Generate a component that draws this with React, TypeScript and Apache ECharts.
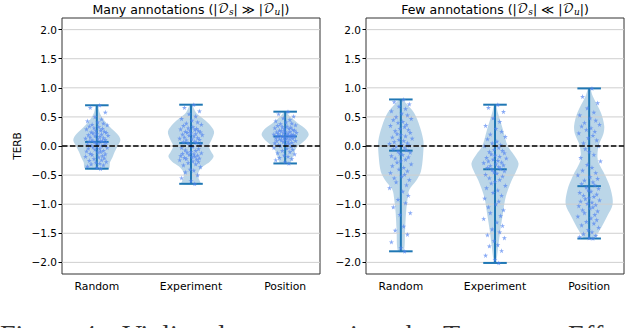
import React, { useEffect, useRef } from 'react';
import * as echarts from 'echarts';

const CATEGORIES = ['Random', 'Experiment', 'Position'];
const POSITIONS = [1, 2, 3];
const Y_TICKS = [-2, -1.5, -1, -0.5, 0, 0.5, 1, 1.5, 2];

// whisker stats per category
const MANY_MIN = [-0.39, -0.65, -0.30];
const MANY_MAX = [0.70, 0.71, 0.59];
const MANY_MEDIAN = [0.07, 0.05, 0.165];
const FEW_MIN = [-1.81, -2.01, -1.59];
const FEW_MAX = [0.80, 0.71, 0.99];
const FEW_MEDIAN = [-0.08, -0.40, -0.69];

// violin outlines: [value, half width]
const MANY_RANDOM_SHAPE = [[0.70, 0.01], [0.57, 0.03], [0.48, 0.06], [0.38, 0.11], [0.28, 0.17], [0.18, 0.23], [0.10, 0.25], [0.0, 0.22], [-0.1, 0.19], [-0.18, 0.17], [-0.28, 0.14], [-0.39, 0.125]];
const MANY_EXPERIMENT_SHAPE = [[0.71, 0.01], [0.57, 0.055], [0.48, 0.12], [0.39, 0.185], [0.25, 0.245], [0.11, 0.22], [0.0, 0.19], [-0.1, 0.215], [-0.18, 0.24], [-0.27, 0.2], [-0.35, 0.13], [-0.45, 0.08], [-0.55, 0.08], [-0.65, 0.1]];
const MANY_POSITION_SHAPE = [[0.59, 0.01], [0.51, 0.05], [0.39, 0.135], [0.28, 0.225], [0.19, 0.25], [0.08, 0.2], [-0.03, 0.12], [-0.15, 0.09], [-0.26, 0.065], [-0.30, 0.05]];
const FEW_RANDOM_SHAPE = [[0.80, 0.01], [0.74, 0.053], [0.57, 0.14], [0.34, 0.2], [0.08, 0.24], [-0.18, 0.235], [-0.44, 0.213], [-0.58, 0.17], [-0.75, 0.09], [-0.92, 0.07], [-1.15, 0.055], [-1.44, 0.045], [-1.81, 0.03]];
const FEW_EXPERIMENT_SHAPE = [[0.71, 0.01], [0.57, 0.03], [0.28, 0.085], [0.0, 0.135], [-0.15, 0.2], [-0.3, 0.25], [-0.45, 0.22], [-0.58, 0.18], [-0.87, 0.115], [-1.15, 0.085], [-1.44, 0.057], [-1.72, 0.035], [-2.01, 0.01]];
const FEW_POSITION_SHAPE = [[0.99, 0.01], [0.85, 0.04], [0.57, 0.125], [0.35, 0.16], [0.20, 0.15], [0.0, 0.1], [-0.24, 0.092], [-0.52, 0.175], [-0.75, 0.23], [-1.0, 0.25], [-1.21, 0.19], [-1.44, 0.115], [-1.55, 0.075], [-1.59, 0.045]];

// individual TERB values
const MANY_RANDOM = [0.70, 0.66, 0.58, 0.50, 0.46, 0.43, 0.41, 0.39, 0.37, 0.36, 0.34, 0.33, 0.31, 0.30, 0.29, 0.27, 0.26, 0.25, 0.24, 0.23, 0.22, 0.21, 0.20, 0.19, 0.18, 0.17, 0.16, 0.15, 0.14, 0.13, 0.12, 0.11, 0.10, 0.09, 0.08, 0.08,
  0.07, 0.06, 0.05, 0.04, 0.03, 0.02, 0.01, 0.00, -0.01, -0.02, -0.03, -0.04, -0.05, -0.06, -0.08, -0.09, -0.10, -0.11, -0.13, -0.14, -0.15, -0.17, -0.18, -0.19, -0.21, -0.22, -0.24, -0.25, -0.27, -0.28, -0.30, -0.31, -0.33, -0.35, -0.37, -0.39];
const MANY_EXPERIMENT = [0.71, 0.66, 0.60, 0.55, 0.51, 0.47, 0.44, 0.41, 0.39, 0.37, 0.35, 0.33, 0.31, 0.30, 0.29, 0.28, 0.27, 0.26, 0.25, 0.24, 0.23, 0.22, 0.21, 0.20, 0.19, 0.18, 0.17, 0.15, 0.14, 0.13, 0.12, 0.11, 0.10, 0.08, 0.07, 0.06,
  0.05, 0.03, 0.01, -0.01, -0.03, -0.05, -0.07, -0.08, -0.10, -0.11, -0.12, -0.13, -0.14, -0.15, -0.16, -0.17, -0.18, -0.19, -0.20, -0.21, -0.22, -0.23, -0.24, -0.26, -0.27, -0.29, -0.31, -0.33, -0.36, -0.40, -0.42, -0.45, -0.50, -0.55, -0.60, -0.65];
const MANY_POSITION = [0.59, 0.55, 0.51, 0.48, 0.45, 0.43, 0.41, 0.39, 0.38, 0.36, 0.35, 0.34, 0.33, 0.32, 0.31, 0.30, 0.29, 0.28, 0.27, 0.27, 0.26, 0.25, 0.25, 0.24, 0.23, 0.22, 0.22, 0.21, 0.20, 0.20, 0.19, 0.19, 0.18, 0.18, 0.17, 0.17,
  0.16, 0.16, 0.15, 0.14, 0.14, 0.13, 0.12, 0.12, 0.11, 0.10, 0.09, 0.09, 0.08, 0.07, 0.06, 0.05, 0.04, 0.03, 0.02, 0.01, 0.00, -0.01, -0.03, -0.04, -0.06, -0.08, -0.10, -0.12, -0.14, -0.16, -0.18, -0.20, -0.22, -0.24, -0.27, -0.30];
const FEW_RANDOM = [0.80, 0.76, 0.72, 0.68, 0.64, 0.60, 0.56, 0.53, 0.50, 0.47, 0.45, 0.42, 0.40, 0.37, 0.35, 0.33, 0.30, 0.28, 0.26, 0.23, 0.21, 0.19, 0.17, 0.15, 0.13, 0.11, 0.09, 0.07, 0.05, 0.04, 0.02, 0.01, -0.01, -0.03, -0.05, -0.07,
  -0.09, -0.11, -0.13, -0.15, -0.17, -0.19, -0.21, -0.23, -0.26, -0.28, -0.31, -0.34, -0.37, -0.40, -0.43, -0.46, -0.49, -0.52, -0.55, -0.58, -0.62, -0.67, -0.72, -0.78, -0.85, -0.92, -0.98, -1.05, -1.15, -1.18, -1.38, -1.45, -1.52, -1.65, -1.75, -1.81];
const FEW_EXPERIMENT = [0.71, 0.66, 0.59, 0.48, 0.42, 0.35, 0.30, 0.25, 0.20, 0.16, 0.12, 0.08, 0.05, 0.02, 0.00, -0.03, -0.06, -0.08, -0.10, -0.12, -0.14, -0.16, -0.18, -0.20, -0.21, -0.23, -0.25, -0.26, -0.28, -0.29, -0.31, -0.33, -0.34, -0.36, -0.37, -0.39,
  -0.41, -0.43, -0.45, -0.47, -0.49, -0.52, -0.55, -0.58, -0.61, -0.64, -0.68, -0.72, -0.76, -0.80, -0.85, -0.90, -0.95, -1.00, -1.05, -1.10, -1.15, -1.20, -1.25, -1.31, -1.37, -1.43, -1.48, -1.53, -1.58, -1.63, -1.70, -1.72, -1.80, -1.88, -1.95, -2.01];
const FEW_POSITION = [0.99, 0.85, 0.74, 0.65, 0.58, 0.53, 0.48, 0.44, 0.40, 0.37, 0.34, 0.31, 0.28, 0.25, 0.22, 0.18, 0.14, 0.10, 0.05, 0.00, -0.05, -0.10, -0.15, -0.20, -0.26, -0.32, -0.37, -0.42, -0.46, -0.50, -0.53, -0.56, -0.59, -0.62, -0.65, -0.67,
  -0.71, -0.73, -0.76, -0.78, -0.80, -0.83, -0.85, -0.87, -0.89, -0.91, -0.93, -0.95, -0.97, -0.99, -1.01, -1.03, -1.05, -1.07, -1.10, -1.12, -1.15, -1.18, -1.21, -1.24, -1.27, -1.30, -1.33, -1.36, -1.40, -1.44, -1.48, -1.51, -1.54, -1.56, -1.58, -1.59];

// horizontal jitter of the strip points (x offsets)
const JITTER = [0.03, -0.07, 0.09, -0.02, 0.05, -0.10, 0.01, 0.07, -0.05, 0.11, -0.08, 0.02, -0.03, 0.06, -0.11, 0.04, -0.01, 0.08, -0.06, 0.10, -0.04, 0.00, 0.05, -0.09, 0.12, -0.02, 0.03, -0.07, 0.07, -0.12, 0.01, 0.09, -0.05, 0.04, -0.08, 0.06,
  -0.03, 0.10, -0.01, 0.02, -0.10, 0.08, -0.06, 0.05, 0.00, -0.04, 0.11, -0.09, 0.03, -0.02, 0.07, -0.11, 0.04, 0.01, -0.07, 0.09, -0.05, 0.06, -0.12, 0.02, 0.08, -0.03, 0.05, -0.08, 0.10, -0.01, 0.03, -0.06, 0.07, -0.10, 0.00, 0.04];

const CAPTION_WORDS = ['Figure', '4:', 'Violin', 'plots', 'comparing', 'the', 'Treatment', 'Effect'];

const FONT = 'DejaVu Sans';
const BLUE = '#1f77b4';
const STAR = 'path://M50,0 L61,35 L98,35 L68,57 L79,91 L50,70 L21,91 L32,57 L2,35 L39,35 Z';

function violinSeries(shapes: number[][][], g: number) {
  return {
    type: 'custom', xAxisIndex: g, yAxisIndex: g, silent: true, z: 1,
    data: POSITIONS.map((p, i) => [p, i]),
    renderItem: (params: any, api: any) => {
      const pos = api.value(0);
      const prof = shapes[params.dataIndex];
      const right = prof.map(([v, w]) => api.coord([pos + w, v]));
      const left = prof.slice().reverse().map(([v, w]) => api.coord([pos - w, v]));
      return { type: 'polygon', shape: { points: right.concat(left), smooth: 0.3 }, style: { fill: 'rgba(31,119,180,0.3)', stroke: 'none' } };
    },
  };
}

function gridLineSeries(g: number) {
  return {
    type: 'custom', xAxisIndex: g, yAxisIndex: g, silent: true, z: 2,
    data: Y_TICKS.map((v) => [1, v]),
    renderItem: (params: any, api: any) => {
      const cs = params.coordSys;
      const y = api.coord([1, api.value(1)])[1];
      return { type: 'line', shape: { x1: cs.x, y1: y, x2: cs.x + cs.width, y2: y }, style: { stroke: '#cfcfcf', lineWidth: 1 } };
    },
  };
}

function zeroLineSeries(g: number) {
  return {
    type: 'custom', xAxisIndex: g, yAxisIndex: g, silent: true, z: 6,
    data: [[1, 0]],
    renderItem: (params: any, api: any) => {
      const cs = params.coordSys;
      const y = api.coord([1, api.value(1)])[1];
      return { type: 'line', shape: { x1: cs.x, y1: y, x2: cs.x + cs.width, y2: y }, style: { stroke: '#000', lineWidth: 1.3, lineDash: [5.5, 2.4] } };
    },
  };
}

function barSeries(mins: number[], maxs: number[], meds: number[], g: number) {
  return {
    type: 'custom', xAxisIndex: g, yAxisIndex: g, silent: true, z: 3,
    data: POSITIONS.map((p, i) => [p, mins[i], maxs[i], meds[i]]),
    renderItem: (params: any, api: any) => {
      const pos = api.value(0);
      const mn = api.value(1), mx = api.value(2), md = api.value(3);
      const cw = 0.125;
      const seg = (a: number[], b: number[]) => ({ type: 'line', shape: { x1: a[0], y1: a[1], x2: b[0], y2: b[1] }, style: { stroke: BLUE, lineWidth: 2 } });
      return {
        type: 'group',
        children: [
          seg(api.coord([pos, mn]), api.coord([pos, mx])),
          seg(api.coord([pos - cw, mx]), api.coord([pos + cw, mx])),
          seg(api.coord([pos - cw, mn]), api.coord([pos + cw, mn])),
          seg(api.coord([pos - cw, md]), api.coord([pos + cw, md])),
        ],
      };
    },
  };
}

function pointSeries(values: number[], idx: number, g: number) {
  return {
    type: 'scatter', xAxisIndex: g, yAxisIndex: g, silent: true, z: 4,
    symbol: STAR, symbolSize: 5,
    itemStyle: { color: 'rgba(80,130,240,0.85)' },
    data: values.map((v, k) => [POSITIONS[idx] + JITTER[k], v]),
  };
}

const fmtY = (v: number) => (v < 0 ? '\u2212' : '') + Math.abs(v).toFixed(1);

function xAxisDef(g: number) {
  return {
    type: 'value', gridIndex: g, min: 0.63, max: 3.37,
    axisLine: { show: false },
    splitLine: { show: false },
    axisTick: { customValues: POSITIONS, length: 3.5, lineStyle: { color: '#000', width: 1 } },
    axisLabel: { customValues: POSITIONS, formatter: (v: number) => CATEGORIES[Math.round(v) - 1], color: '#000', fontFamily: FONT, fontSize: 10.8, margin: 7 },
  };
}

function yAxisDef(g: number) {
  return {
    type: 'value', gridIndex: g, min: -2.2, max: 2.2,
    axisLine: { show: false },
    splitLine: { show: false },
    axisTick: { show: true, customValues: Y_TICKS, length: 3.5, lineStyle: { color: '#000', width: 1 } },
    axisLabel: { customValues: Y_TICKS, formatter: fmtY, color: '#000', fontFamily: FONT, fontSize: 10.5, margin: 5 },
    ...(g === 0 ? { name: 'TERB', nameLocation: 'middle', nameGap: 40, nameTextStyle: { color: '#000', fontFamily: FONT, fontSize: 10.5 } } : {}),
  };
}

function titleText(cx: number, prefix: string, rel: string) {
  return {
    type: 'text', x: cx, y: 9, z: 10,
    style: {
      text: `{t|${prefix} (|}{cal|\u{1D49F}}{sub|s}{t|| ${rel} |}{cal|\u{1D49F}}{sub|u}{t||)}`,
      align: 'center', verticalAlign: 'middle',
      rich: {
        t: { fontFamily: FONT, fontSize: 12.5, fill: '#000', lineHeight: 14 },
        cal: { fontFamily: 'DejaVu Math TeX Gyre, DejaVu Serif, DejaVu Sans', fontSize: 12.5, fill: '#000', lineHeight: 14 },
        sub: { fontFamily: 'DejaVu Serif', fontStyle: 'italic', fontSize: 9, fill: '#000', lineHeight: 14, verticalAlign: 'bottom' },
      },
    },
  };
}

const CAPTION_X = [0, 82, 122, 204, 266, 398, 443, 568];

export default function App() {
  const ref = useRef<HTMLDivElement>(null);
  useEffect(() => {
    const chart = echarts.init(ref.current!, null, { renderer: 'svg' });
    const option: any = {
      animation: false,
      backgroundColor: '#fff',
      grid: [
        { left: 62, top: 18, width: 258, height: 256, show: true, borderColor: '#333', borderWidth: 1, backgroundColor: 'transparent' },
        { left: 366, top: 18, width: 258, height: 256, show: true, borderColor: '#333', borderWidth: 1, backgroundColor: 'transparent' },
      ],
      xAxis: [xAxisDef(0), xAxisDef(1)],
      yAxis: [yAxisDef(0), yAxisDef(1)],
      series: [
        gridLineSeries(0), gridLineSeries(1),
        violinSeries([MANY_RANDOM_SHAPE, MANY_EXPERIMENT_SHAPE, MANY_POSITION_SHAPE], 0),
        violinSeries([FEW_RANDOM_SHAPE, FEW_EXPERIMENT_SHAPE, FEW_POSITION_SHAPE], 1),
        barSeries(MANY_MIN, MANY_MAX, MANY_MEDIAN, 0),
        barSeries(FEW_MIN, FEW_MAX, FEW_MEDIAN, 1),
        pointSeries(MANY_RANDOM, 0, 0), pointSeries(MANY_EXPERIMENT, 1, 0), pointSeries(MANY_POSITION, 2, 0),
        pointSeries(FEW_RANDOM, 0, 1), pointSeries(FEW_EXPERIMENT, 1, 1), pointSeries(FEW_POSITION, 2, 1),
        zeroLineSeries(0), zeroLineSeries(1),
      ],
      graphic: [
        titleText(191, 'Many annotations', '\u226B'),
        titleText(495, 'Few annotations', '\u226A'),
        ...CAPTION_WORDS.map((w, i) => ({
          type: 'text', x: CAPTION_X[i], y: 320, z: 10,
          style: { text: w, fontFamily: 'Liberation Serif', fontSize: 28, fill: '#333', verticalAlign: 'top' },
        })),
      ],
    };
    chart.setOption(option);
    return () => chart.dispose();
  }, []);
  return <div ref={ref} style={{ position: 'absolute', left: 0, top: 0, width: 626, height: 328, background: '#fff' }} />;
}
